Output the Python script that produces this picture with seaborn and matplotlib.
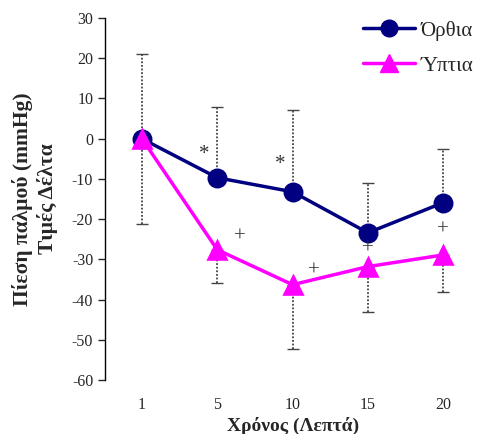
import numpy as np
import pandas as pd
import matplotlib
matplotlib.use('Agg')
import matplotlib.pyplot as plt
import seaborn as sns
from matplotlib.lines import Line2D

# δεδομένα (τιμές Δέλτα, mmHg)
times = ['1', '5', '10', '15', '20']
orthia = [0, -9.7, -13.2, -23.4, -15.9]
yptia = [0, -27.6, -36.3, -31.8, -28.9]
# άκρα των σφαλμάτων (Όρθια προς τα πάνω, Ύπτια προς τα κάτω)
orthia_upper = [21.1, 8.0, 7.2, -10.9, -2.5]
yptia_lower = [-21.1, -36.0, -52.2, -43.0, -38.0]
# σημάδια στατιστικής σημαντικότητας
star_x = [0.83, 1.83]
star_y = [-4.0, -6.5]
plus_x = [1.3, 2.28, 3.0, 4.0]
plus_y = [-24.5, -32.8, -27.5, -22.6]

df = pd.DataFrame({
    'time': times * 2,
    'value': orthia + yptia,
    'pos': ['Όρθια'] * 5 + ['Ύπτια'] * 5,
})

sns.set_style('white')
plt.rcParams['font.family'] = ['Liberation Serif', 'DejaVu Serif']
plt.rcParams['axes.unicode_minus'] = False

fig = plt.figure(figsize=(4.85, 4.34), dpi=100)
ax = fig.add_axes([0.2165, 0.1244, 0.775, 0.834])

colors = {'Όρθια': '#000080', 'Ύπτια': '#ff00ff'}

x = np.arange(len(times))
# σφάλματα (διακεκομμένες γκρι γραμμές)
ax.errorbar(x, orthia, yerr=[np.zeros(5), np.array(orthia_upper) - np.array(orthia)],
            fmt='none', ecolor='#444444', elinewidth=1.3, capsize=4, capthick=1.3,
            zorder=1)
ax.errorbar(x, yptia, yerr=[np.array(yptia) - np.array(yptia_lower), np.zeros(5)],
            fmt='none', ecolor='#444444', elinewidth=1.3, capsize=4, capthick=1.3,
            zorder=1)
for c in ax.collections:
    c.set_linestyle((0, (1, 1)))
for ln in ax.lines:
    ln.set_markeredgewidth(1.0)

sns.pointplot(data=df, x='time', y='value', hue='pos', palette=colors,
              markers=['o', '^'], markersize=12.5, linewidth=2.5, errorbar=None,
              ax=ax, legend=False, zorder=3)

for xi, yi in zip(star_x, star_y):
    ax.text(xi, yi, '*', ha='center', va='center', fontsize=15, color='#333333')
for xi, yi in zip(plus_x, plus_y):
    ax.text(xi, yi, '+', ha='center', va='center', fontsize=15, color='#333333')

ax.set_ylim(-60, 30)
ax.set_yticks(range(-60, 31, 10))
ax.set_xlim(-0.49, 4.5)
ax.tick_params(axis='y', direction='out', length=5, width=1, labelsize=11.5, left=True)
ax.tick_params(axis='x', length=0, labelsize=11.5, pad=12)
for s in ['top', 'right', 'bottom']:
    ax.spines[s].set_visible(False)
ax.spines['left'].set_color('black')
ax.spines['left'].set_linewidth(1)

ax.set_xlabel('Χρόνος (Λεπτά)', fontsize=14, fontweight='bold', labelpad=3)
ax.set_ylabel('Πίεση παλμού (mmHg)\nΤιμές Δέλτα', fontsize=15.5, fontweight='bold',
              labelpad=10, linespacing=1.25)

handles = [Line2D([], [], color=colors['Όρθια'], marker='o', markersize=12, linewidth=2.5),
           Line2D([], [], color=colors['Ύπτια'], marker='^', markersize=13, linewidth=2.5)]
ax.legend(handles, ['Όρθια', 'Ύπτια'], loc='upper right', frameon=False, fontsize=15,
          handlelength=2.5, bbox_to_anchor=(1.03, 1.045), handletextpad=0.25,
          labelspacing=0.75)

fig.savefig('out.png', dpi=100)
